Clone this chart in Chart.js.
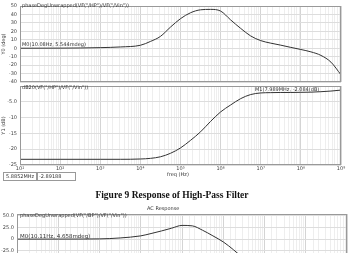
<!DOCTYPE html>
<html>
<head>
<meta charset="utf-8">
<script src="https://cdn.jsdelivr.net/npm/chart.js@4/dist/chart.umd.min.js"></script>
<style>
  html, body { margin: 0; padding: 0; background: #fff; width: 352px; height: 253px; overflow: hidden; }
  body { position: relative; font-family: "DejaVu Sans", sans-serif; color: #222; }
  canvas { position: absolute; left: 0; }
  .t { position: absolute; font-size: 5px; line-height: 6px; white-space: nowrap; color: #333; }
  .box { position: absolute; top: 172px; height: 7px; border: 1px solid #999; font-size: 5px; line-height: 7px; padding-left: 2px; color: #333; }
  .cap { position: absolute; left: 0; width: 344px; top: 190px; text-align: center; font: bold 9.5px "Liberation Serif", serif; color: #111; }
</style>
</head>
<body>
<canvas id="phaseHP" width="352" height="88" style="top:0"></canvas>
<canvas id="gainHP" width="352" height="100" style="top:80px"></canvas>
<canvas id="phaseBP" width="352" height="80" style="top:200px"></canvas>

<div class="t" style="left:22px;top:2px">phaseDegUnwrapped(VF("/HP")/VF("/Vin"))</div>
<div class="t" style="left:22px;top:41px">M0(10.08Hz, 5.544mdeg)</div>
<div class="t" style="left:22px;top:84px">dB20(VF("/HP")/VF("/Vin"))</div>
<div class="t" style="left:255px;top:86px">M1(7.989MHz, -2.084(dB)</div>
<div class="t" style="left:167px;top:171px">freq (Hz)</div>
<div class="box" style="left:3px;width:31px">5.8852MHz</div>
<div class="box" style="left:36px;width:36px">-2.89188</div>
<div class="cap">Figure 9 Response of High-Pass Filter</div>
<div class="t" style="left:147px;top:205px">AC Response</div>
<div class="t" style="left:20px;top:212px">phaseDegUnwrapped(VF("/BP")/VF("/Vin"))</div>
<div class="t" style="left:20px;top:233px;font-size:5.5px">M0(10.11Hz, 4.658mdeg)</div>

<script>
// values (quarter-decade steps)
const hpFreq = [10, 100, 1000, 3162, 1e4, 1.778e4, 3.162e4, 5.623e4, 1e5, 1.778e5, 3.162e5, 5.623e5,
  1e6, 1.778e6, 3.162e6, 5.623e6, 1e7, 1.778e7, 3.162e7, 5.623e7, 1e8, 1.778e8, 3.162e8, 5.623e8, 1e9];
const hpPhase = [0, 0.1, 0.7, 1.5, 3.5, 8, 14, 25, 35, 42, 45.5, 46, 44, 33.5, 23.5, 14.5, 9, 6, 3.6, 1.0,
  -1.5, -4.3, -8.5, -16.5, -31.5];
const hpGain = [-23.2, -23.2, -23.2, -23.2, -23.1, -22.9, -22.4, -21.3, -19.6, -17.2, -14.5, -11.2,
  -8.2, -6.0, -4.0, -2.7, -2.2, -2.1, -2.05, -2.05, -2.0, -1.95, -1.8, -1.6, -1.3];

const bpFreq = [10, 100, 1000, 3162, 1e4, 1.778e4, 3.162e4, 5.623e4, 1e5, 1.778e5, 3.162e5, 5.623e5,
  1e6, 1.778e6, 3.162e6, 5.623e6, 1e7];
const bpPhase = [0, 0.05, 0.5, 2.5, 7, 12, 17.5, 23.5, 29.5, 28.5, 19, 7, -6, -23, -42, -60, -75];

const SUP = ['⁰', '¹', '²', '³', '⁴', '⁵', '⁶', '⁷', '⁸', '⁹'];
const FONT = { family: "DejaVu Sans", size: 5 };

function isDecade(v) {
  const e = Math.log10(v);
  return Math.abs(e - Math.round(e)) < 1e-6;
}

// box round the plot area, like the Virtuoso viewer
const frame = {
  id: 'frame',
  afterDraw(chart) {
    const { ctx, chartArea: a } = chart;
    ctx.save();
    ctx.strokeStyle = '#999';
    ctx.lineWidth = 1;
    ctx.strokeRect(a.left + 0.5, a.top + 0.5, a.right - a.left - 1, a.bottom - a.top - 1);
    ctx.restore();
  }
};

function makeChart(id, xs, ys, o) {
  const canvas = document.getElementById(id);
  return new Chart(canvas.getContext('2d'), {
    type: 'line',
    data: {
      datasets: [{
        data: xs.map((f, i) => ({ x: f, y: ys[i] })),
        borderColor: '#333',
        borderWidth: 1,
        pointRadius: 0,
        cubicInterpolationMode: 'monotone'
      }]
    },
    options: {
      responsive: false,
      animation: false,
      events: [],
      layout: { padding: o.padding },
      plugins: { legend: { display: false }, tooltip: { enabled: false } },
      scales: {
        x: {
          type: 'logarithmic',
          min: 10,
          max: 1e9,
          afterFit: s => { s.height = o.xHeight; },
          border: { display: false },
          grid: {
            drawTicks: false,
            color: c => (c.tick && isDecade(c.tick.value)) ? '#d4d4d4' : '#eeeeee'
          },
          ticks: {
            display: o.xLabels,
            autoSkip: false,
            maxRotation: 0,
            padding: 1,
            color: '#444',
            font: FONT,
            callback: v => isDecade(v) ? '10' + SUP[Math.round(Math.log10(v))] : ''
          }
        },
        y: {
          min: o.yMin,
          max: o.yMax,
          afterFit: s => { s.width = o.yWidth; },
          // ticks only on whole steps, even when the axis top is not one
          afterBuildTicks: s => {
            const ticks = [];
            for (let v = Math.ceil(o.yMin / o.yStep) * o.yStep; v <= o.yMax; v += o.yStep) ticks.push({ value: v });
            s.ticks = ticks;
          },
          border: { display: false },
          grid: { drawTicks: false, color: '#dddddd' },
          ticks: { stepSize: o.yStep, autoSkip: false, padding: 3, color: '#444', font: FONT, callback: o.yLabel },
          title: { display: !!o.yTitle, text: o.yTitle, padding: 1, color: '#444', font: FONT }
        }
      }
    },
    plugins: [frame]
  });
}

makeChart('phaseHP', hpFreq, hpPhase, {
  padding: { top: 4, right: 11, bottom: 4, left: 0 },
  xHeight: 0, xLabels: false,
  yMin: -40, yMax: 50, yStep: 10, yWidth: 20, yTitle: 'Y0 (deg)',
  yLabel: v => String(v)
});

makeChart('gainHP', hpFreq, hpGain, {
  padding: { top: 5, right: 11, bottom: 5, left: 0 },
  xHeight: 10, xLabels: true,
  yMin: -25, yMax: 0, yStep: 5, yWidth: 20, yTitle: 'Y1 (dB)',
  yLabel: v => v === 0 ? '' : (v === -5 ? '-5.0' : String(v))
});

makeChart('phaseBP', bpFreq, bpPhase, {
  padding: { top: 14, right: 5, bottom: 6, left: 0 },
  xHeight: 0, xLabels: false,
  yMin: -75, yMax: 54, yStep: 25, yWidth: 17, yTitle: '',
  yLabel: v => v === 0 ? '0' : v.toFixed(1)
});
</script>
</body>
</html>
